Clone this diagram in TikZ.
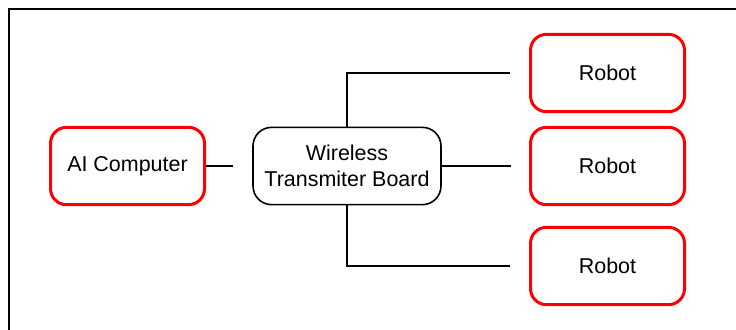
\documentclass[tikz,border=0pt]{standalone}
\usepackage{fontspec}
\setmainfont{Liberation Sans}
\begin{document}
\begin{tikzpicture}[x=0.75pt,y=-0.75pt,
  redbox/.style={draw=red,line width=2.25pt,rounded corners=12pt,minimum width=115.5pt,minimum height=58pt,inner sep=0pt,align=center,font=\fontsize{16.1pt}{19.5pt}\selectfont},
  blackbox/.style={draw=black,line width=1.2pt,rounded corners=14pt,minimum width=141pt,minimum height=58pt,inner sep=0pt,align=center,font=\fontsize{16.1pt}{19.5pt}\selectfont},
  link/.style={line width=1.1pt},
  frameline/.style={line width=1.5pt}]
\useasboundingbox (0,0) rectangle (736,329);
% frame
\coordinate (ftr) at (737,9);
\coordinate (ftl) at (9,9);
\coordinate (fbl) at (9,330);
\draw[frameline] (ftr) -- (ftl) -- (fbl);
% nodes
\node[redbox] (ai) at (127.5,166) {AI Computer};
\node[blackbox] (wb) at (347,166) {Wireless\\Transmiter Board};
\node[redbox] (r1) at (607.5,73) {Robot};
\node[redbox] (r2) at (607.5,166) {Robot};
\node[redbox] (r3) at (607.5,266) {Robot};
% connector ends
\coordinate (c1) at (233,166);
\coordinate (c2) at (511,166);
\coordinate (c3) at (510,73);
\coordinate (c4) at (510,266);
\draw[link] (ai.east) -- (c1);
\draw[link] (wb.east) -- (c2);
\draw[link] (wb.north) |- (c3);
\draw[link] (wb.south) |- (c4);
\end{tikzpicture}
\end{document}
